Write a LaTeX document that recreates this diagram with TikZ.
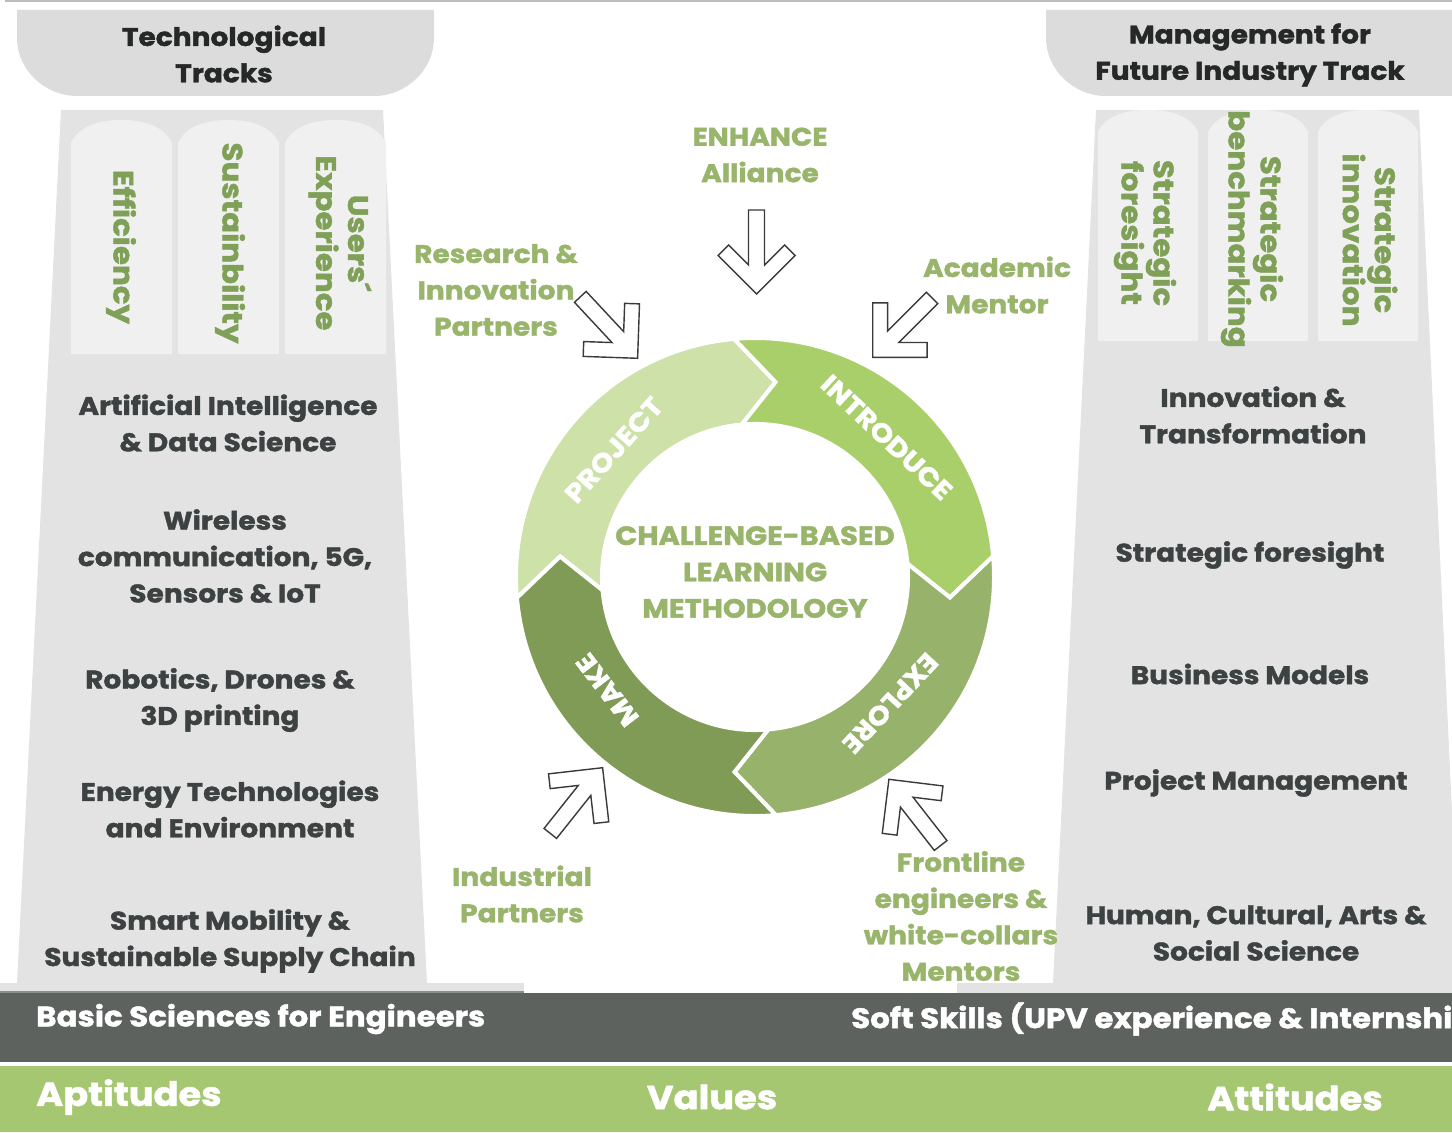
\documentclass[tikz,border=0pt]{standalone}
\usepackage{fontspec}
\setmainfont{Poppins}[FakeStretch=1.1, BoldFeatures={FakeBold=1.5}]
\usepackage{xcolor}
\usepackage{tikz}
\usetikzlibrary{positioning}
\definecolor{headgray}{HTML}{DCDCDC}
\definecolor{pillargray}{HTML}{E3E3E3}
\definecolor{colgray}{HTML}{F0F0F0}
\definecolor{stripline}{HTML}{8C8C8C}
\definecolor{topline}{HTML}{BDBDBD}
\definecolor{headtext}{HTML}{262828}
\definecolor{darktext}{HTML}{3C4142}
\definecolor{labelgreen}{HTML}{98B56B}
\definecolor{colgreen}{HTML}{7FA057}
\definecolor{projcol}{HTML}{CDE1A9}
\definecolor{introcol}{HTML}{A9CF6B}
\definecolor{explcol}{HTML}{97B26A}
\definecolor{makecol}{HTML}{7F9B56}
\definecolor{bandgray}{HTML}{5D625F}
\definecolor{bandgreen}{HTML}{A6C771}
\definecolor{arrowline}{HTML}{3A3A3A}
\newcommand{\headfont}{\fontsize{14.5}{20.7}\selectfont\bfseries}
\newcommand{\itemfont}{\fontsize{14.5}{20.7}\selectfont\bfseries}
\newcommand{\colfont}{\fontsize{16}{18.2}\selectfont\bfseries}
\newcommand{\ringfont}{\fontsize{15}{20.7}\selectfont\bfseries}
\newcommand{\bandfont}{\fontsize{16}{18}\selectfont\bfseries}
\newcommand{\basefont}{\fontsize{19}{22}\selectfont\bfseries}
\tikzstyle{item} = [font=\itemfont, text=darktext, align=center]
\tikzstyle{track} = [font=\colfont, text=colgreen, align=center, rotate=-90]
\tikzstyle{partner} = [font=\itemfont, text=labelgreen, align=center]
\tikzstyle{segment} = [draw=white, line width=2.3pt, line join=miter]
\tikzstyle{ringlabel} = [font=\ringfont, text=white]
\tikzstyle{bandtext} = [font=\bandfont, text=white, anchor=west]
\tikzset{hollow arrow/.pic={
    \draw[arrowline, fill=white, line width=0.8pt, line join=miter]
      (-8,-84) -- (-8,-29) -- (-28,-49) -- (-38.5,-38.5) -- (0,0)
      -- (38.5,-38.5) -- (28,-49) -- (8,-29) -- (8,-84) -- cycle;
}}

\begin{document}
\begin{tikzpicture}[x=0.02cm, y=-0.02cm]
		\useasboundingbox (0,0) rectangle (1452,1132);
		\clip (0,0) rectangle (1452,1132);
		\fill[white] (0,0) rectangle (1452,1132);
		\draw[topline, line width=1.2pt] (5,1) -- (1452,1);
		% Headers
		\fill[headgray] (17,10) -- (17,38) .. controls (17,70) and (45,96) .. (77,96) -- (374,96) .. controls (406,96) and (434,70) .. (434,38) -- (434,10) -- cycle;
		\fill[headgray] (1046,10) -- (1046,38) .. controls (1046,70) and (1074,96) .. (1106,96) -- (1460,96) -- (1460,10) -- cycle;
		% Pillars
		\fill[pillargray] (61,110) -- (383,110) -- (427,983) -- (17,983) -- cycle;
		\fill[pillargray] (1096,110) -- (1419,110) -- (1460,983) -- (1053,983) -- cycle;
		\foreach \x in {71,178,285}
			\fill[colgray] (\x,354) -- (\x,143) .. controls (\x+8,126) and (\x+28,120) .. (\x+50.5,120) .. controls (\x+73,120) and (\x+93,126) .. (\x+101,143) -- (\x+101,354) -- cycle;
		\foreach \x in {1098,1208,1318}
			\fill[colgray] (\x,341) -- (\x,132) .. controls (\x+8,115) and (\x+28,110) .. (\x+50,110) .. controls (\x+72,110) and (\x+92,115) .. (\x+100,132) -- (\x+100,341) -- cycle;
		% Base strips and bands
		\fill[pillargray] (0,983) rectangle (524,991);
		\fill[stripline] (0,991) rectangle (524,993);
		\fill[pillargray] (957,983) rectangle (1452,993);
		\fill[bandgray] (0,993) rectangle (1452,1062);
		\fill[bandgreen] (0,1066) rectangle (1452,1132);
		% Cycle
		\begin{scope}[shift={(755,577)}, yscale=-1]
		\foreach \a/\c in {185/projcol, 95/introcol, 5/explcol, -85/makecol}
			\path[segment, fill=\c] (\a-11:196) -- (\a:239) arc[start angle=\a, end angle=\a-90, radius=239]
				-- (\a-101:196) -- (\a-90:153) arc[start angle=\a-90, end angle=\a, radius=153] -- cycle;
		\node[ringlabel, rotate=48] (project) at (138:190) {PROJECT};
		\node[ringlabel, rotate=-43.3] (introduce) at (46.7:192) {INTRODUCE};
		\node[ringlabel, rotate=-133] (explore) at (-43:185) {EXPLORE};
		\node[ringlabel, rotate=127.4] (make) at (217.4:186) {MAKE};
		\end{scope}
		\node[partner, font=\ringfont] (cbl) at (755,572) {CHALLENGE-BASED\\LEARNING\\METHODOLOGY};
		% Hollow arrows towards the cycle
		\coordinate (enhancetip) at (756.5,294);
		\coordinate (researchtip) at (637.6,358.3);
		\coordinate (academictip) at (872.7,357.3);
		\coordinate (industrialtip) at (602.6,767.7);
		\coordinate (frontlinetip) at (888.9,779.3);
		\pic at (enhancetip) {hollow arrow};
		\pic[rotate=43] at (researchtip) {hollow arrow};
		\pic[rotate=-45] at (academictip) {hollow arrow};
		\pic[rotate=141.5] at (industrialtip) {hollow arrow};
		\pic[rotate=-142] at (frontlinetip) {hollow arrow};
		% Stakeholders
		\node[partner] (enhance) at (760,155) {ENHANCE\\Alliance};
		\node[partner] (research) at (496,290) {Research \&\\Innovation\\Partners};
		\node[partner] (academic) at (997,285) {Academic\\Mentor};
		\node[partner] (industrial) at (522,894) {Industrial\\Partners};
		\node[partner] (frontline) at (961,916) {Frontline\\engineers \&\\white-collars\\Mentors};
		% Header texts
		\node[item, font=\headfont, text=headtext] (techtracks) at (224,54) {Technological\\Tracks};
		\node[item, font=\headfont, text=headtext] (mgmt) at (1250,55) {Management for\\Future Industry Track};
		% Vertical tracks
		\node[track] (efficiency) at (121,247) {Efficiency};
		\node[track] (sustain) at (230,243) {Sustainbility};
		\node[track] (users) at (340,243) {Users´\\Experience};
		\node[track] (stratfore) at (1145,233) {Strategic\\foresight};
		\node[track] (stratbench) at (1252,229) {Strategic\\benchmarking};
		\node[track] (stratinno) at (1370,240) {Strategic\\innovation};
		% Technological tracks
		\node[item] (aids) at (228,423) {Artificial Intelligence\\\& Data Science};
		\node[item] (wireless) at (225,556) {Wireless\\communication, 5G,\\Sensors \& IoT};
		\node[item] (robotics) at (220,700) {Robotics, Drones \&\\3D printing};
		\node[item] (energy) at (230,809) {Energy Technologies\\and Environment};
		\node[item] (mobility) at (230,941) {Smart Mobility \&\\Sustainable Supply Chain};
		% Management track
		\node[item] (innovation) at (1253,415) {Innovation \&\\Transformation};
		\node[item] (foresight) at (1250,555) {Strategic foresight};
		\node[item] (business) at (1250,674) {Business Models};
		\node[item] (projman) at (1256,783) {Project Management};
		\node[item] (human) at (1256,933) {Human, Cultural, Arts \&\\Social Science};
		% Bands
		\node[bandtext] (basic) at (30,1019) {Basic Sciences for Engineers};
		\node[bandtext] (soft) at (845,1019) {Soft Skills (UPV experience \& Internships)};
		\node[bandtext, font=\basefont] (aptitudes) at (30,1097) {Aptitudes};
		\node[bandtext, font=\basefont, anchor=center] (values) at (712,1097) {Values};
		\node[bandtext, font=\basefont, anchor=center] (attitudes) at (1295,1097) {Attitudes};
\end{tikzpicture}
\end{document}
